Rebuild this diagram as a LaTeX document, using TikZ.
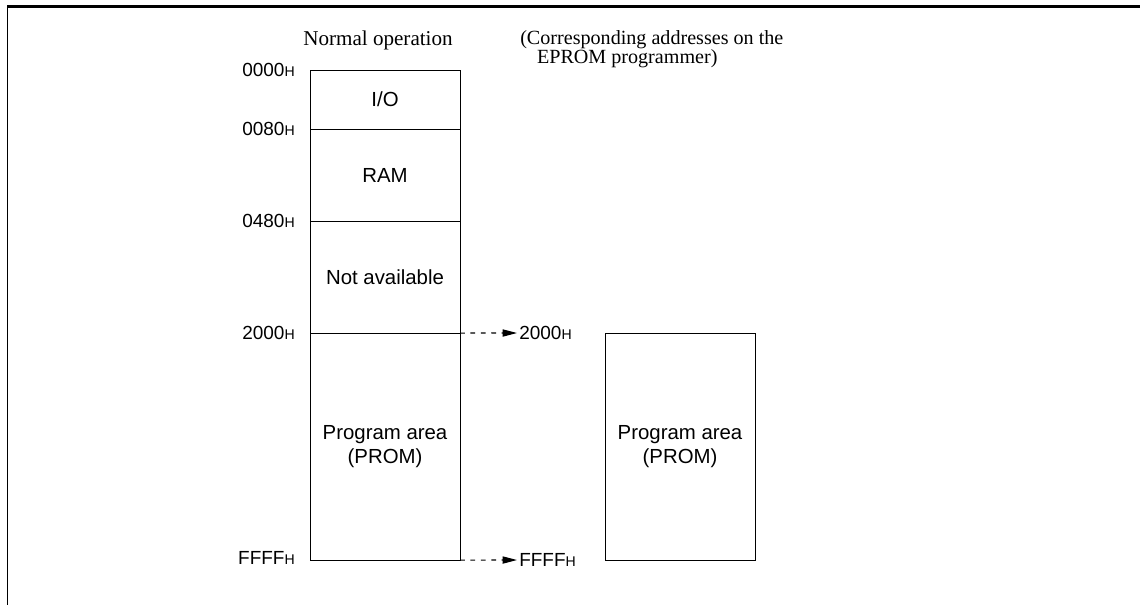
\documentclass[tikz,border=0pt]{standalone}
\usepackage{fontspec}
\setmainfont{Liberation Serif}
\setsansfont{Liberation Sans}
\usetikzlibrary{positioning,arrows.meta}
\newcommand{\adrh}[1]{#1{\fontsize{10}{10}\selectfont H}}

\begin{document}
\begin{tikzpicture}[x=0.025cm, y=-0.025cm,
	memblk/.style={draw, line width=0.7pt, minimum width=3.75cm, inner sep=0pt,
		outer sep=0pt, align=center, font=\sffamily\fontsize{14.5}{16.5}\selectfont},
	adr/.style={inner sep=0pt, font=\sffamily\fontsize{13.5}{14}\selectfont},
	maparrow/.style={line width=0.8pt, dash pattern=on 1.2mm off 1.4mm, shorten >=0.05cm,
		-{Triangle[length=3.6mm,width=1.8mm]}}]
	\useasboundingbox (0,0) rectangle (1140,605);
	% frame
	\draw[line width=1.5pt] (7,6.5) -- (1140,6.5);
	\draw[line width=0.8pt] (7.5,6.5) -- (7.5,605);
	% headings
	\node[anchor=base, font=\rmfamily\fontsize{15}{16}\selectfont] (hdnorm) at (378,45) {Normal operation};
	\node[align=left, inner sep=0pt, anchor=north west, font=\rmfamily\fontsize{14.3}{8}\selectfont] (hdeprom) at (520,30)
		{(Corresponding addresses on the\\\hspace*{0.42cm}EPROM programmer)};
	% memory map, normal operation
	\node[memblk, minimum height=1.475cm, anchor=north west] (io) at (310,70) {I/O};
	\node[memblk, minimum height=2.3cm, below=0pt of io] (ram) {RAM};
	\node[memblk, minimum height=2.8cm, below=0pt of ram] (na) {Not available};
	\node[memblk, minimum height=5.675cm, below=0pt of na] (prog) {Program area\\(PROM)};
	% memory map, EPROM programmer
	\node[memblk, minimum height=5.675cm, anchor=north west] (prom) at (605,333) {Program area\\(PROM)};
	% addresses
	\node[adr, anchor=east] (a0) at (295,70) {\adrh{0000}};
	\node[adr, anchor=east] (a1) at (295,129) {\adrh{0080}};
	\node[adr, anchor=east] (a2) at (295,221) {\adrh{0480}};
	\node[adr, anchor=east] (a3) at (295,333) {\adrh{2000}};
	\node[adr, anchor=east] (a4) at (295,558) {\adrh{FFFF}};
	\node[adr, anchor=west] (b3) at (519,333) {\adrh{2000}};
	\node[adr, anchor=west] (b4) at (519,560) {\adrh{FFFF}};
	\draw[maparrow] (na.south east) -- (b3.west);
	\draw[maparrow] (prog.south east) -- (b4.west);
\end{tikzpicture}
\end{document}
